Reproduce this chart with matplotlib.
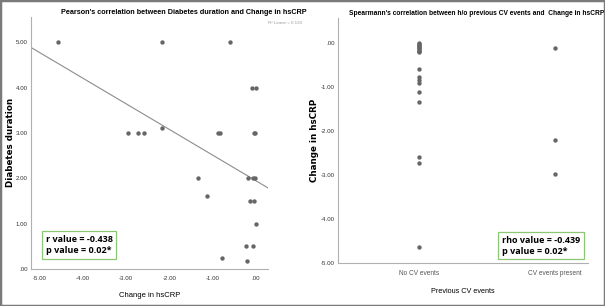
import numpy as np
import matplotlib
matplotlib.use("Agg")
import matplotlib.pyplot as plt
from matplotlib.patches import Rectangle

# left panel: change in hsCRP vs diabetes duration
crp_change = [-4.57, -2.18, -0.60, -0.10, -0.01,
              -2.96, -2.72, -2.58, -2.17, -0.89, -0.84, -0.05, -0.02,
              -1.34, -0.18, -0.06, -0.02, -1.14, -0.15, -0.05,
              0.01, -0.22, -0.06, -0.79, -0.21]
dm_duration = [5.0, 5.0, 5.0, 4.0, 4.0,
               3.0, 3.0, 3.0, 3.1, 3.0, 3.0, 3.0, 3.0,
               2.0, 2.0, 2.0, 2.0, 1.6, 1.5, 1.5,
               1.0, 0.5, 0.5, 0.25, 0.17]

# right panel: change in hsCRP by previous CV events
cv_groups = ["No CV events", "CV events present"]
no_cv = [0.0, -0.03, -0.05, -0.08, -0.10, -0.13, -0.15, -0.18, -0.20, -0.22,
         -0.60, -0.77, -0.85, -0.92, -1.13, -1.34, -2.59, -2.74, -4.64]
cv_present = [-0.13, -2.20, -2.99]

r_text = "r value = -0.438\np value = 0.02*"
rho_text = "rho value = -0.439\np value = 0.02*"
r2_text = "R\u00b2 Linear = 0.193"

narrow = "Liberation Sans"
dot_col = "#666666"
box_col = "#8cc873"

fig = plt.figure(figsize=(6.05, 3.06), dpi=100)
fig.patches.append(Rectangle((0, 0), 1, 1, transform=fig.transFigure,
                             fill=False, edgecolor="#7a7a7a", linewidth=2.5))

def style(ax):
    for s in ["top", "right"]:
        ax.spines[s].set_visible(False)
    for s in ["left", "bottom"]:
        ax.spines[s].set_color("#b0b0b0")
        ax.spines[s].set_linewidth(0.8)
    ax.tick_params(length=0, labelsize=4.4, labelcolor="#333333", pad=2.5)
    ax.tick_params(axis="x", pad=5)
    for lab in ax.get_xticklabels() + ax.get_yticklabels():
        lab.set_family(narrow)

def fmt(v):
    s = "%.2f" % v
    return s.replace("0.", ".", 1) if s.startswith("0.") or s.startswith("-0.") else s

# left
ax1 = fig.add_axes([0.0512, 0.121, 0.392, 0.824])
ax1.scatter(crp_change, dm_duration, s=10, color=dot_col, linewidths=0, zorder=3)
slope, icpt = np.polyfit(crp_change, dm_duration, 1)
xl = np.array([-5.2, 0.28])
ax1.plot(xl, slope * xl + icpt, color="#8c8c8c", linewidth=0.8)
ax1.set_xlim(-5.2, 0.28)
ax1.set_ylim(0, 5.56)
xt = [-5, -4, -3, -2, -1, 0]
yt = [0, 1, 2, 3, 4, 5]
ax1.set_xticks(xt, [fmt(v) for v in xt])
ax1.set_yticks(yt, [fmt(v) for v in yt])
style(ax1)
ax1.set_xlabel("Change in hsCRP", fontsize=5.5, family=narrow, labelpad=8)
ax1.set_ylabel("Diabetes duration", fontsize=6.3, fontweight="bold", family="DejaVu Sans")
ax1.yaxis.set_label_coords(-0.068, 0.5)
ax1.set_title("Pearson's correlation between Diabetes duration and Change in hsCRP",
              fontsize=5.2, family=narrow, fontweight="bold", x=0.645, y=1.0, pad=2)
ax1.text(1.0, 0.975, r2_text, transform=ax1.transAxes, fontsize=3.2,
         color="#999999", family=narrow, ha="left", va="center")
ax1.text(0.063, 0.095, r_text, transform=ax1.transAxes, fontsize=6.5,
         fontweight="bold", family="Open Sans", linespacing=1.3, va="center",
         bbox=dict(boxstyle="square,pad=0.4", facecolor="white", edgecolor=box_col, linewidth=0.9))

# right
ax2 = fig.add_axes([0.5587, 0.1405, 0.413, 0.8007])
ax2.scatter([0] * len(no_cv), no_cv, s=10, color=dot_col, linewidths=0, zorder=3)
ax2.scatter([1] * len(cv_present), cv_present, s=10, color=dot_col, linewidths=0, zorder=3)
ax2.set_xlim(-0.6, 1.24)
ax2.set_ylim(-5.0, 0.56)
ax2.set_xticks([0, 1], cv_groups)
yt2 = [0, -1, -2, -3, -4, -5]
ax2.set_yticks(yt2, [fmt(v) for v in yt2])
style(ax2)
ax2.tick_params(axis="x", labelsize=4.7, labelcolor="#555555", pad=5)
ax2.set_xlabel("Previous CV events", fontsize=5.2, family=narrow, labelpad=8)
ax2.set_ylabel("Change in hsCRP", fontsize=6.3, fontweight="bold", family="DejaVu Sans")
ax2.yaxis.set_label_coords(-0.078, 0.5)
ax2.set_title("Spearmann's correlation between h/o previous CV events and  Change in hsCRP",
              fontsize=4.8, family=narrow, fontweight="bold", x=0.555, y=1.0, pad=2)
ax2.text(0.656, 0.071, rho_text, transform=ax2.transAxes, fontsize=6.5,
         fontweight="bold", family="Open Sans", linespacing=1.3, va="center",
         bbox=dict(boxstyle="square,pad=0.4", facecolor="white", edgecolor=box_col, linewidth=0.9))

fig.savefig("out.png", dpi=100)
